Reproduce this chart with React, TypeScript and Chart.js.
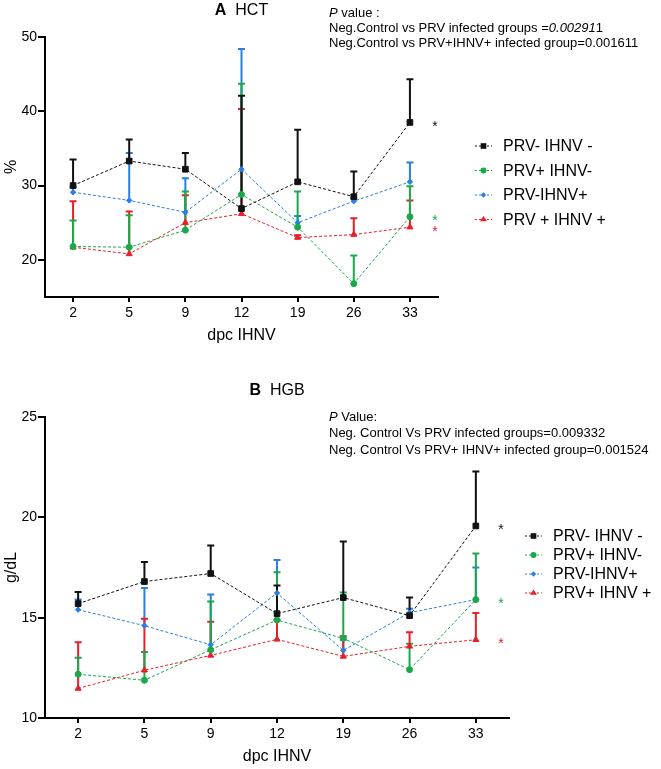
import React, { useEffect, useRef } from 'react';
import { Chart, registerables } from 'chart.js';
Chart.register(...registerables);

const FONT = '"Liberation Sans", Arial, Helvetica, sans-serif';

// ---------- data ----------
const days = ['2', '5', '9', '12', '19', '26', '33'];
const groupNamesA = ['PRV- IHNV -', 'PRV+ IHNV-', 'PRV-IHNV+', 'PRV + IHNV +'];
const groupNamesB = ['PRV- IHNV -', 'PRV+ IHNV-', 'PRV-IHNV+', 'PRV+ IHNV +'];
const significant = [true, true, false, true];

// Panel A: HCT (%) — mean and top of error bar
const hctNeg = [30.0, 33.3, 32.2, 26.9, 30.5, 28.5, 38.5];
const hctNegTop = [33.5, 36.2, 34.4, 42.1, 37.5, 31.9, 44.3];
const hctPrv = [21.8, 21.7, 24.0, 28.8, 24.4, 16.8, 25.8];
const hctPrvTop = [25.3, 26.0, 29.2, 43.7, 29.2, 20.6, 29.9];
const hctIhnv = [29.1, 28.0, 26.4, 32.2, 25.0, 27.9, 30.5];
const hctIhnvTop = [29.8, 34.4, 31.0, 48.4, 25.9, 28.3, 33.1];
const hctBoth = [21.7, 20.8, 25.0, 26.2, 23.0, 23.4, 24.4];
const hctBothTop = [27.9, 26.5, 28.7, 40.3, 23.3, 25.6, 28.0];
const hctTicks = [20, 30, 40, 50];

// Panel B: HGB (g/dL)
const hgbNeg = [15.7, 16.8, 17.2, 15.2, 16.0, 15.1, 19.57];
const hgbNegTop = [16.28, 17.77, 18.6, 16.6, 18.8, 16.0, 22.28];
const hgbPrv = [12.18, 11.88, 13.4, 14.88, 13.97, 12.41, 15.9];
const hgbPrvTop = [13.0, 13.29, 15.8, 17.26, 16.25, 13.7, 18.2];
const hgbIhnv = [15.4, 14.6, 13.65, 16.23, 13.37, 15.25, 15.9];
const hgbIhnvTop = [15.9, 16.48, 16.16, 17.87, 13.9, 15.45, 17.5];
const hgbBoth = [11.47, 12.38, 13.12, 13.92, 13.07, 13.57, 13.9];
const hgbBothTop = [13.77, 14.95, 14.8, 14.9, 14.07, 14.27, 15.23];
const hgbTicks = [10, 15, 20, 25];

// ---------- styles ----------
const groupColors = ['#111111', '#1ba84c', '#2a7fe0', '#e61f28'];
const groupMarkers = ['rect', 'circle', 'rectRot', 'triangle'];
const markerRadius = [4, 3, 2.7, 3.5];
const barOrder = [2, 3, 1, 0];

type Run = { t: string; i?: boolean; b?: boolean };

function drawRuns(ctx: CanvasRenderingContext2D, x: number, y: number, runs: Run[], size: number) {
  let cx = x;
  for (const r of runs) {
    ctx.font = `${r.i ? 'italic ' : ''}${r.b ? 'bold ' : ''}${size}px ${FONT}`;
    ctx.fillText(r.t, cx, y);
    cx += ctx.measureText(r.t).width;
  }
}
function runsWidth(ctx: CanvasRenderingContext2D, runs: Run[], size: number) {
  let w = 0;
  for (const r of runs) {
    ctx.font = `${r.i ? 'italic ' : ''}${r.b ? 'bold ' : ''}${size}px ${FONT}`;
    w += ctx.measureText(r.t).width;
  }
  return w;
}

function drawMarker(ctx: CanvasRenderingContext2D, style: string, x: number, y: number, r: number) {
  ctx.beginPath();
  if (style === 'rect') {
    const s = r * Math.SQRT1_2;
    ctx.rect(x - s, y - s, 2 * s, 2 * s);
  } else if (style === 'circle') {
    ctx.arc(x, y, r, 0, Math.PI * 2);
  } else if (style === 'rectRot') {
    ctx.moveTo(x, y - r); ctx.lineTo(x + r, y); ctx.lineTo(x, y + r); ctx.lineTo(x - r, y); ctx.closePath();
  } else {
    const h = r * 1.5;
    ctx.moveTo(x, y - r); ctx.lineTo(x + h * 0.577 * 1.15, y + r * 0.5); ctx.lineTo(x - h * 0.577 * 1.15, y + r * 0.5); ctx.closePath();
  }
  ctx.fill();
}

interface PanelCfg {
  series: number[][];
  tops: number[][];
  names: string[];
  ticks: number[];
  min: number;
  max: number;
  yTitle: string;
  title: Run[];
  pLines: Run[][];
  pX: number;
  pY: number[];
  legendX: number;
  legendY: number;
  legendStep: number;
  padRight: number;
  padBottom: number;
}

function buildConfig(cfg: PanelCfg): any {
  const errorBars = {
    id: 'errBars',
    beforeDatasetsDraw(chart: any) {
      const { ctx } = chart;
      const xs = chart.scales.x, ys = chart.scales.y;
      ctx.save();
      ctx.lineWidth = 2;
      barOrder.forEach((k) => {
        ctx.strokeStyle = groupColors[k];
        cfg.series[k].forEach((v, i) => {
          const px = xs.getPixelForValue(i);
          const p0 = ys.getPixelForValue(v);
          const p1 = ys.getPixelForValue(cfg.tops[k][i]);
          ctx.beginPath();
          ctx.moveTo(px, p0);
          ctx.lineTo(px, p1);
          ctx.moveTo(px - 3.5, p1);
          ctx.lineTo(px + 3.5, p1);
          ctx.stroke();
        });
      });
      ctx.restore();
    },
  };

  const annotations = {
    id: 'annot',
    afterDraw(chart: any) {
      const { ctx, chartArea } = chart;
      const xs = chart.scales.x, ys = chart.scales.y;
      ctx.save();
      ctx.fillStyle = '#000';
      ctx.textBaseline = 'middle';
      ctx.textAlign = 'left';
      // title
      const tw = runsWidth(ctx, cfg.title, 16);
      drawRuns(ctx, (chartArea.left + chartArea.right) / 2 - tw / 2, 11, cfg.title, 16);
      // p values
      cfg.pLines.forEach((line, i) => drawRuns(ctx, cfg.pX, cfg.pY[i], line, 13));
      // significance stars
      ctx.textBaseline = 'alphabetic';
      ctx.font = `14px ${FONT}`;
      ctx.textAlign = 'center';
      const last = days.length - 1;
      cfg.series.forEach((s, k) => {
        if (!significant[k]) return;
        ctx.fillStyle = groupColors[k];
        ctx.fillText('*', xs.getPixelForValue(last) + 25, ys.getPixelForValue(s[last]) + 8.5);
      });
      // legend
      ctx.textAlign = 'left';
      ctx.textBaseline = 'middle';
      cfg.names.forEach((name, k) => {
        const y = cfg.legendY + k * cfg.legendStep;
        const x = cfg.legendX;
        ctx.strokeStyle = groupColors[k];
        ctx.fillStyle = groupColors[k];
        ctx.lineWidth = 1;
        ctx.setLineDash([2, 2]);
        ctx.beginPath();
        ctx.moveTo(x, y);
        ctx.lineTo(x + 17, y);
        ctx.stroke();
        ctx.setLineDash([]);
        drawMarker(ctx, groupMarkers[k], x + 8.5, y, markerRadius[k]);
        ctx.fillStyle = '#000';
        ctx.font = `16px ${FONT}`;
        ctx.fillText(name, x + 28, y + 1);
      });
      ctx.restore();
    },
  };

  return {
    type: 'line',
    data: {
      labels: days,
      datasets: cfg.series.map((s, k) => ({
        label: cfg.names[k],
        data: s,
        borderColor: groupColors[k],
        backgroundColor: groupColors[k],
        borderWidth: 1,
        borderDash: [3, 2],
        pointStyle: groupMarkers[k],
        pointRadius: markerRadius[k],
        pointBorderWidth: 1,
        pointBackgroundColor: groupColors[k],
        pointBorderColor: groupColors[k],
        fill: false,
        tension: 0,
      })),
    },
    options: {
      responsive: false,
      animation: false,
      events: [],
      layout: { padding: { left: 0, right: cfg.padRight, top: 37, bottom: cfg.padBottom } },
      plugins: { legend: { display: false }, title: { display: false }, tooltip: { enabled: false } },
      scales: {
        x: {
          type: 'category',
          offset: true,
          grid: { display: true, drawOnChartArea: false, drawTicks: true, tickLength: 5, lineWidth: 2, color: '#000' },
          border: { display: true, color: '#000', width: 2 },
          ticks: { color: '#000', font: { family: FONT, size: 14 }, padding: 3, maxRotation: 0, autoSkip: false },
          title: { display: true, text: 'dpc IHNV', color: '#000', font: { family: FONT, size: 16 }, padding: { top: 0, bottom: 0 } },
          afterFit: (s: any) => { s.height = 48; },
        },
        y: {
          type: 'linear',
          min: cfg.min,
          max: cfg.max,
          afterBuildTicks: (s: any) => { s.ticks = cfg.ticks.map((v) => ({ value: v })); },
          grid: { display: true, drawOnChartArea: false, drawTicks: true, tickLength: 7, lineWidth: 2, color: '#000' },
          border: { display: true, color: '#000', width: 2 },
          ticks: { color: '#000', font: { family: FONT, size: 14 }, padding: 1 },
          title: { display: true, text: cfg.yTitle, color: '#000', font: { family: FONT, size: 16 }, padding: { top: 2, bottom: 0 } },
          afterFit: (s: any) => { s.width = 45; },
        },
      },
    },
    plugins: [errorBars, annotations],
  };
}

const panelA: PanelCfg = {
  series: [hctNeg, hctPrv, hctIhnv, hctBoth],
  tops: [hctNegTop, hctPrvTop, hctIhnvTop, hctBothTop],
  names: groupNamesA,
  ticks: hctTicks,
  min: 15,
  max: 50,
  yTitle: '%',
  title: [{ t: 'A', b: true }, { t: '  HCT' }],
  pLines: [
    [{ t: 'P', i: true }, { t: ' value :' }],
    [{ t: 'Neg.Control vs PRV infected groups =' }, { t: '0.00291', i: true }, { t: '1' }],
    [{ t: 'Neg.Control vs PRV+IHNV+ infected group=0.001611' }],
  ],
  pX: 329,
  pY: [13, 28.5, 43.5],
  legendX: 475,
  legendY: 146,
  legendStep: 24.5,
  padRight: 223,
  padBottom: 35,
};

const panelB: PanelCfg = {
  series: [hgbNeg, hgbPrv, hgbIhnv, hgbBoth],
  tops: [hgbNegTop, hgbPrvTop, hgbIhnvTop, hgbBothTop],
  names: groupNamesB,
  ticks: hgbTicks,
  min: 10,
  max: 25,
  yTitle: 'g/dL',
  title: [{ t: 'B', b: true }, { t: '  HGB' }],
  pLines: [
    [{ t: 'P', i: true }, { t: ' Value:' }],
    [{ t: 'Neg. Control Vs PRV infected groups=0.009332' }],
    [{ t: 'Neg. Control Vs PRV+ IHNV+ infected group=0.001524' }],
  ],
  pX: 329,
  pY: [37, 53.5, 70],
  legendX: 525,
  legendY: 156,
  legendStep: 19,
  padRight: 152,
  padBottom: 3,
};

function Panel({ cfg, top, height }: { cfg: PanelCfg; top: number; height: number }) {
  const ref = useRef<HTMLCanvasElement>(null);
  useEffect(() => {
    const chart = new Chart(ref.current as HTMLCanvasElement, buildConfig(cfg));
    return () => chart.destroy();
  }, [cfg]);
  return (
    <div style={{ position: 'absolute', left: 0, top, width: 661, height }}>
      <canvas ref={ref} width={661} height={height} style={{ width: 661, height, display: 'block' }} />
    </div>
  );
}

export default function App() {
  return (
    <div style={{ position: 'absolute', left: 0, top: 0, width: 661, height: 769, background: '#fff' }}>
      <Panel cfg={panelA} top={0} height={380} />
      <Panel cfg={panelB} top={380} height={389} />
    </div>
  );
}
